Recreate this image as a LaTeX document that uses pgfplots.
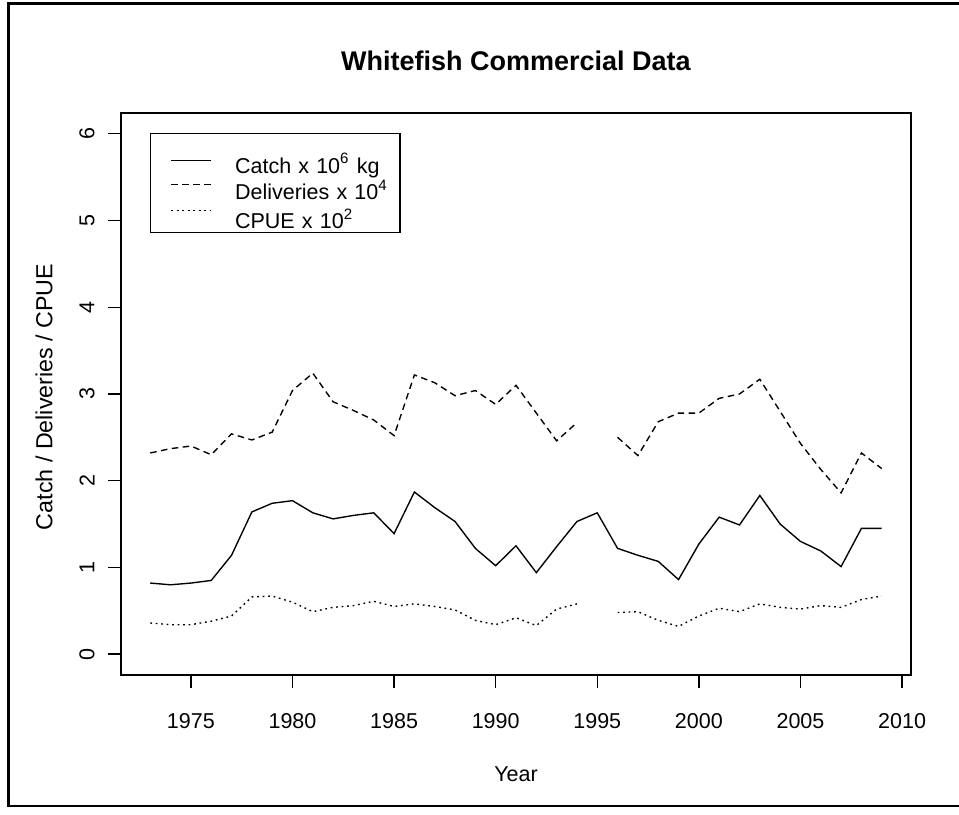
\documentclass[border=0pt]{standalone}
\usepackage{fontspec}
\setmainfont{Liberation Sans}
\usepackage{pgfplots}
\usepackage{pgfplotstable}
\pgfplotsset{compat=1.18}

% year, catch (10^6 kg), deliveries (10^4), CPUE (10^2)
\pgfplotstableread{
year catch deliv cpue
1973 0.82 2.32 0.36
1974 0.80 2.37 0.34
1975 0.82 2.40 0.34
1976 0.85 2.30 0.38
1977 1.14 2.54 0.44
1978 1.64 2.47 0.66
1979 1.74 2.56 0.67
1980 1.77 3.04 0.60
1981 1.63 3.24 0.49
1982 1.56 2.91 0.54
1983 1.60 2.81 0.56
1984 1.63 2.70 0.61
1985 1.39 2.52 0.55
1986 1.87 3.22 0.58
1987 1.69 3.13 0.55
1988 1.53 2.98 0.51
1989 1.22 3.04 0.39
1990 1.02 2.88 0.34
1991 1.25 3.10 0.42
1992 0.94 2.78 0.33
1993 1.24 2.46 0.52
1994 1.53 2.67 0.58
1995 1.63 nan nan
1996 1.22 2.50 0.48
1997 1.14 2.29 0.49
1998 1.07 2.68 0.39
1999 0.86 2.78 0.32
2000 1.27 2.78 0.44
2001 1.58 2.95 0.53
2002 1.49 3.00 0.49
2003 1.83 3.17 0.58
2004 1.50 2.80 0.54
2005 1.30 2.43 0.52
2006 1.19 2.13 0.56
2007 1.01 1.86 0.54
2008 1.45 2.32 0.63
2009 1.45 2.14 0.67
}\whitefish

\newcommand{\basefont}{\fontsize{8.6}{10}\selectfont}
\pgfplotsset{
  imgA/.style={legend image code/.code={\path (0pt,0pt); \draw[##1] (4pt,5.1pt) -- (20pt,5.1pt);}},
  imgB/.style={legend image code/.code={\path (0pt,0pt); \draw[##1] (4pt,6pt) -- (20pt,6pt);}},
  imgC/.style={legend image code/.code={\path (0pt,0pt); \draw[##1] (4pt,7.4pt) -- (20pt,7.4pt);}},
}
\tikzset{entry/.style={text width=62pt, text height=#1, text depth=0pt, inner sep=0pt}}

\begin{document}
\begin{tikzpicture}
\begin{axis}[
    scale only axis,
    width=316pt, height=224.8pt,
    xmin=1971.56, xmax=2010.44,
    ymin=-0.24, ymax=6.24,
    unbounded coords=jump,
    axis line style={line width=0.55pt},
    tick style={line width=0.55pt, black},
    tick align=outside,
    major tick length=5.2pt,
    xtick pos=left, ytick pos=left,
    xtick={1975,1980,...,2010},
    ytick={0,1,...,6},
    /pgf/number format/1000 sep={},
    /pgf/number format/assume math mode=true,
    xticklabel style={font=\basefont, anchor=center, yshift=-13.2pt},
    yticklabel style={font=\basefont, anchor=center, xshift=-8.4pt, rotate=90},
    every axis title/.style={at={(rel axis cs:0.5,1)}, anchor=center, yshift=20.8pt,
        font=\bfseries\fontsize{10.8}{13}\selectfont},
    title={Whitefish Commercial Data},
    every axis x label/.style={at={(rel axis cs:0.5,0)}, anchor=center, yshift=-39.6pt, font=\basefont},
    xlabel={Year},
    every axis y label/.style={at={(rel axis cs:0,0.5)}, anchor=center, xshift=-30.8pt, yshift=-1.2pt,
        rotate=90, font=\fontsize{9.3}{11}\selectfont},
    ylabel={Catch / Deliveries / CPUE},
    legend style={at={(rel axis cs:0.0367,0.9644)}, anchor=north west,
        draw=black, line width=0.55pt, inner xsep=4pt, inner ysep=1.3pt,
        row sep=0pt, column sep=9.2pt, font=\basefont,
        cells={anchor=base west}},
]
\addplot[black, line width=0.55pt, imgA]
    table[x=year, y=catch] {\whitefish};
\addlegendentry[entry=14.6pt]{Catch x 10\textsuperscript{6} kg}
\addplot[black, line width=0.55pt, dash pattern=on 2.6pt off 1.8pt, imgB]
    table[x=year, y=deliv] {\whitefish};
\addlegendentry[entry=10.24pt]{Deliveries x 10\textsuperscript{4}}
\addplot[black, line width=0.55pt, dash pattern=on 0.7pt off 1.5pt, imgC]
    table[x=year, y=cpue] {\whitefish};
\addlegendentry[entry=11.36pt]{CPUE x 10\textsuperscript{2}}
\end{axis}
\draw[line width=1.1pt] (-45pt,-52.4pt) rectangle (339.6pt,268.6pt);
\pgfresetboundingbox
\path[use as bounding box] (-48.4pt,-56pt) rectangle (335.2pt,270pt);
\end{tikzpicture}
\end{document}
